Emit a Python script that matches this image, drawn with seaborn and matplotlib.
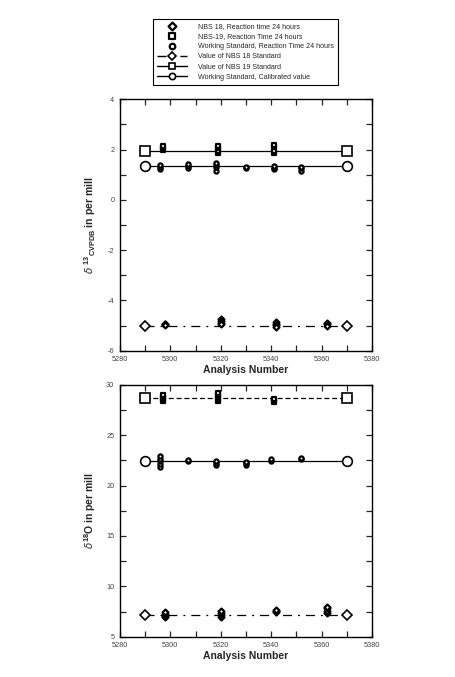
import numpy as np
import matplotlib
matplotlib.use("Agg")
import matplotlib.pyplot as plt
import seaborn as sns
from matplotlib.ticker import MultipleLocator
from matplotlib.lines import Line2D

sns.set_style("ticks")
plt.rcParams["font.family"] = ["Liberation Sans", "DejaVu Sans"]
plt.rcParams["mathtext.fontset"] = "custom"
plt.rcParams["mathtext.rm"] = "Liberation Sans"
plt.rcParams["mathtext.bf"] = "Liberation Sans:bold"
plt.rcParams["lines.scale_dashes"] = False
plt.rcParams["axes.unicode_minus"] = False

# --- standard end points (analysis number) ---
std_x = [5290, 5370]

# --- delta 13C (VPDB) ---
nbs18_c_x = [5298, 5298, 5298, 5320, 5320, 5320, 5320, 5342, 5342, 5342, 5342, 5362, 5362, 5362]
nbs18_c_y = [-4.92, -4.95, -4.98, -4.75, -4.82, -4.88, -4.95, -4.85, -4.92, -4.98, -5.05, -4.88, -4.93, -5.0]
nbs19_c_x = [5297, 5297, 5297, 5319, 5319, 5319, 5319, 5341, 5341, 5341, 5341]
nbs19_c_y = [2.0, 2.08, 2.15, 1.85, 1.95, 2.05, 2.15, 1.85, 1.95, 2.1, 2.2]
ws_c_x = [5296, 5296, 5296, 5307, 5307, 5307, 5318, 5318, 5318, 5318, 5330, 5330, 5341, 5341, 5341, 5352, 5352, 5352]
ws_c_y = [1.22, 1.3, 1.4, 1.25, 1.33, 1.42, 1.15, 1.3, 1.38, 1.45, 1.25, 1.3, 1.22, 1.28, 1.35, 1.15, 1.25, 1.32]
nbs18_c_std = -5.0
nbs19_c_std = 1.95
ws_c_std = 1.36

# --- delta 18O ---
nbs18_o_x = [5298, 5298, 5298, 5298, 5320, 5320, 5320, 5320, 5342, 5342, 5342, 5362, 5362, 5362, 5362]
nbs18_o_y = [6.95, 7.1, 7.3, 7.5, 7.0, 7.2, 7.4, 7.6, 7.5, 7.6, 7.7, 7.4, 7.6, 7.8, 7.95]
nbs19_o_x = [5297, 5297, 5297, 5297, 5319, 5319, 5319, 5319, 5319, 5341, 5341, 5341]
nbs19_o_y = [28.4, 28.6, 28.8, 29.0, 28.4, 28.6, 28.8, 29.0, 29.2, 28.3, 28.45, 28.6]
ws_o_x = [5296, 5296, 5296, 5296, 5296, 5307, 5307, 5318, 5318, 5318, 5330, 5330, 5330, 5340, 5340, 5352, 5352]
ws_o_y = [21.8, 22.1, 22.4, 22.6, 22.9, 22.4, 22.5, 22.0, 22.2, 22.4, 22.0, 22.2, 22.3, 22.4, 22.6, 22.6, 22.7]
nbs18_o_std = 7.2
nbs19_o_std = 28.65
ws_o_std = 22.45

dash_dot = (0, (6.5, 4.3, 1.4, 4.3))
dashed = (0, (3.6, 2.0))

fig = plt.figure(figsize=(4.55, 6.77), dpi=100)
ax1 = fig.add_axes([0.2637, 0.482, 0.5538, 0.3713])
ax2 = fig.add_axes([0.2637, 0.0595, 0.5538, 0.3722])


def draw(ax, d):
    small = dict(s=9, facecolor="white", edgecolor="black", linewidth=1.6, zorder=3)
    sns.scatterplot(x=d["n18x"], y=d["n18y"], marker="D", ax=ax,
                    label="NBS 18, Reaction time 24 hours", **small)
    sns.scatterplot(x=d["n19x"], y=d["n19y"], marker="s", ax=ax,
                    label="NBS-19, Reaction Time 24 hours", **small)
    sns.scatterplot(x=d["wsx"], y=d["wsy"], marker="o", ax=ax,
                    label="Working Standard, Reaction Time 24 hours", **small)
    big = dict(color="black", linewidth=0.9, markerfacecolor="white",
               markeredgecolor="black", markeredgewidth=1.2, zorder=2)
    sns.lineplot(x=std_x, y=[d["s18"]] * 2, marker="D", markersize=5, ax=ax,
                 linestyle=dash_dot, label="Value of NBS 18 Standard", **big)
    sns.lineplot(x=std_x, y=[d["s19"]] * 2, marker="s", markersize=7, ax=ax,
                 linestyle=d["ls19"], label="Value of NBS 19 Standard", **big)
    sns.lineplot(x=std_x, y=[d["sws"]] * 2, marker="o", markersize=7, ax=ax,
                 linestyle="-", label="Working Standard, Calibrated value", **big)

    ax.set_xlim(5280, 5380)
    ax.xaxis.set_major_locator(MultipleLocator(20))
    ax.xaxis.set_minor_locator(MultipleLocator(10))
    ax.tick_params(which="both", direction="in", top=True, right=True,
                   length=4, width=0.9, labelsize=5.3, labelcolor="#444444", pad=4)
    for sp in ax.spines.values():
        sp.set_linewidth(1.0)
        sp.set_color("black")
    ax.set_xlabel("Analysis Number", fontsize=7.5, fontweight="bold", labelpad=1)


draw(ax1, dict(n18x=nbs18_c_x, n18y=nbs18_c_y, n19x=nbs19_c_x, n19y=nbs19_c_y,
               wsx=ws_c_x, wsy=ws_c_y, s18=nbs18_c_std, s19=nbs19_c_std,
               sws=ws_c_std, ls19="-"))
draw(ax2, dict(n18x=nbs18_o_x, n18y=nbs18_o_y, n19x=nbs19_o_x, n19y=nbs19_o_y,
               wsx=ws_o_x, wsy=ws_o_y, s18=nbs18_o_std, s19=nbs19_o_std,
               sws=ws_o_std, ls19=dashed))

ax1.set_ylim(-6, 4)
ax1.yaxis.set_major_locator(MultipleLocator(2))
ax1.yaxis.set_minor_locator(MultipleLocator(1))
ax1.set_ylabel(r"$\delta\ ^{\mathbf{13}}{}_{\mathbf{CVPDB}}$ in per mill",
               fontsize=7.5, fontweight="bold", labelpad=7)

ax2.set_ylim(5, 30)
ax2.yaxis.set_major_locator(MultipleLocator(5))
ax2.yaxis.set_minor_locator(MultipleLocator(2.5))
ax2.set_ylabel(r"$\delta^{\mathbf{18}}$O in per mill",
               fontsize=7.5, fontweight="bold", labelpad=6)

handles, labels = ax1.get_legend_handles_labels()
ax1.get_legend().remove()
ax2.get_legend().remove()
leg = fig.legend(handles, labels, loc="upper left",
                 bbox_to_anchor=(153 / 455, 1 - 19 / 677),
                 fontsize=5.1, frameon=True, fancybox=False, edgecolor="black",
                 framealpha=1, borderpad=0.55, labelspacing=0.45, handlelength=4.2,
                 handletextpad=1.6, borderaxespad=0, markerscale=1.0)
leg.get_frame().set_linewidth(0.8)
for h in leg.legend_handles:
    if isinstance(h, Line2D):
        h.set_markersize(4.5)
        h.set_linewidth(1.0)
    else:
        h.set_sizes([16])

fig.savefig("out.png", dpi=100)
